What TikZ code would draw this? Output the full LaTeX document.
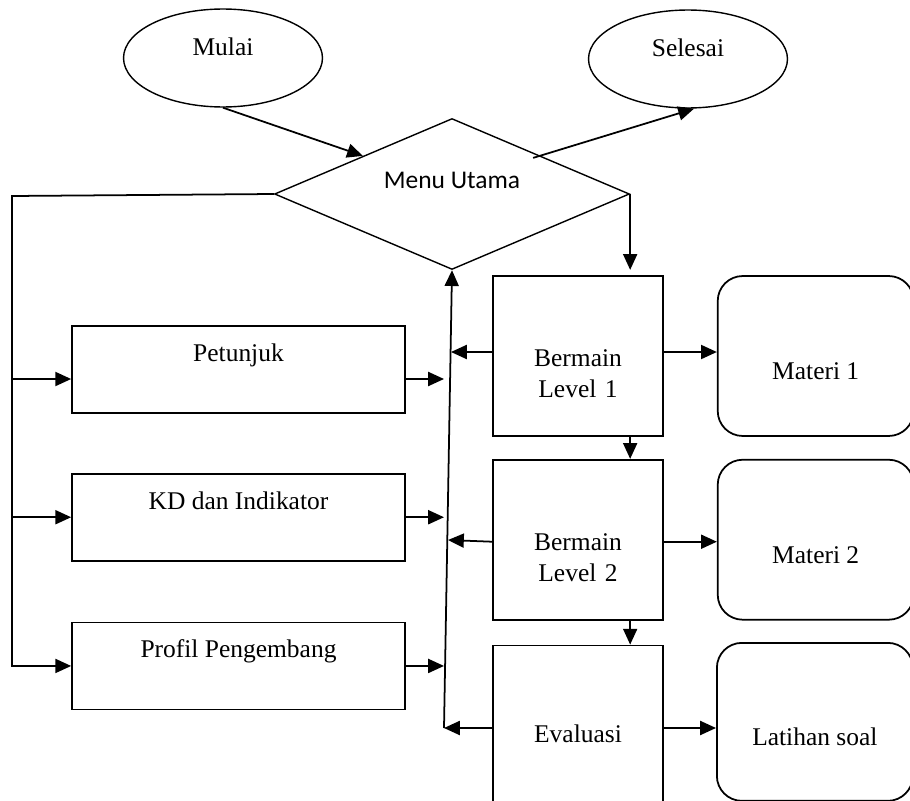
\documentclass[tikz,border=0pt]{standalone}
\usepackage{fontspec}
\setmainfont{Liberation Serif}
\newfontfamily\menufont{Carlito}
\usepackage{tikz}
\usetikzlibrary{positioning}
\usetikzlibrary{arrows.meta,shapes}
\tikzset{
    flow/.style={>={Triangle[length=9pt,width=8pt]},line width=1pt,
                 x=0.02cm,y=-0.02cm,font=\fontsize{14.5}{17.5}\selectfont},
    terminal/.style={ellipse,draw,line width=0.8pt,minimum width=3.98cm,minimum height=1.96cm,
                     inner sep=0pt,text height=10pt,text depth=12.3pt},
    menu/.style={diamond,draw,line width=0.8pt,aspect=2.35,minimum width=7.1cm,minimum height=3.02cm,
                 inner sep=0pt,font=\menufont\fontsize{14.5}{17}\selectfont,text height=9pt,text depth=14.7pt},
    info/.style={rectangle,draw,minimum width=6.66cm,minimum height=1.74cm,text height=10pt,text depth=19.3pt},
    level/.style={rectangle,draw,minimum width=3.4cm,minimum height=3.2cm,text width=3cm,align=center,
                  text height=14pt,text depth=1.5pt},
    content/.style={rectangle,draw,rounded corners=0.5cm,minimum width=3.92cm,minimum height=3.2cm,
                    text height=30pt,text depth=2.7pt},
    }
\begin{document}
\begin{tikzpicture}[flow]
    \useasboundingbox (0,0) rectangle (910,801);
    \node[terminal] (mulai) at (223,58) {Mulai};
    \node[terminal] (selesai) at (688,59) {Selesai};
    \node[menu] (menu) at (452,194) {Menu Utama};

    \node[info] (petunjuk) at (238.5,369.5) {Petunjuk};
    \node[info] (kd) [below=1.18cm of petunjuk] {KD dan Indikator};
    \node[info] (profil) [below=1.2cm of kd] {Profil Pengembang};

    \node[level] (l1) at (578,356) {Bermain\\Level 1};
    \node[level] (l2) [below=0.44cm of l1] {Bermain\\Level 2};
    \node[level] (eval) [below=0.48cm of l2, minimum height=3.28cm, text height=18pt, text depth=1pt] {Evaluasi};

    \node[content] (materi1) [right=1.06cm of l1] {Materi 1};
    \node[content] (materi2) [right=1.06cm of l2] {Materi 2};
    \node[content, minimum height=3.16cm, anchor=north west] (latihan) at (716,642) {Latihan soal};

    % titik pada garis kiri dan kanan
    \coordinate (bustop) at (12,196);
    \coordinate (in1) at (12,379);
    \coordinate (bus) at (444,728);
    \coordinate (j1) at (451,352);
    \coordinate (j2) at (448,540);

    \path[->] (mulai.south) edge (menu.north west);
    \path[->] ([shift={(-8,2)}]menu.north east) edge ([shift={(6,0)}]selesai.south);

    \draw[->] (menu.west) -- (bustop) |- (profil.west);
    \draw[->] (in1) -- (in1 -| petunjuk.west);
    \draw[->] (bustop |- kd.west) -- (kd.west);

    \draw[->] (petunjuk.east |- in1) -- (bus |- in1);
    \draw[->] (kd.east) -- (bus |- kd.east);
    \draw[->] (profil.east) -- (bus |- profil.east);
    \draw[->] (bus) -- (menu.south);

    \draw[->, shorten >=3pt] (menu.east) -- (menu.east |- l1.north);
    \draw[->] (l1.south -| menu.east) -- (l2.north -| menu.east);
    \draw[->] (l2.south -| menu.east) -- (eval.north -| menu.east);

    \draw[->] ([shift={(0,-4)}]l1.west) -- (j1);
    \draw[->] ([shift={(0,2)}]l2.west) -- (j2);
    \draw[->] (eval.west |- bus) -- (bus);
    \draw[->] ([shift={(0,-4)}]l1.east) -- ([shift={(0,-4)}]materi1.west);
    \draw[->] ([shift={(0,2)}]l2.east) -- ([shift={(0,2)}]materi2.west);
    \draw[->] (eval.east |- bus) -- (latihan.west |- bus);
\end{tikzpicture}
\end{document}
